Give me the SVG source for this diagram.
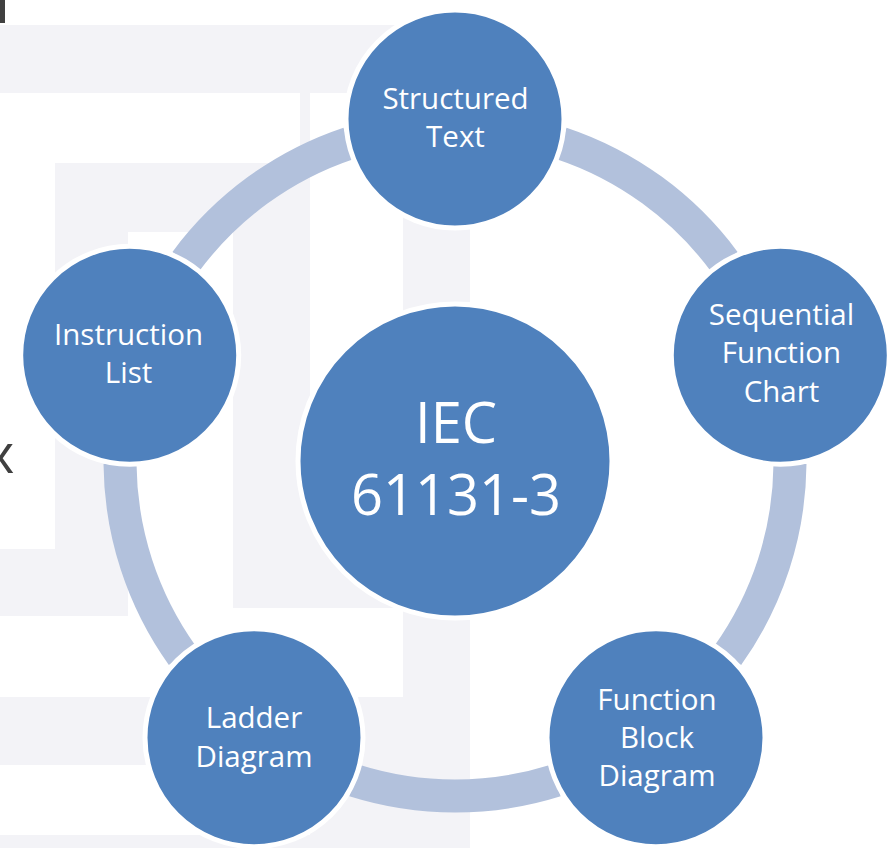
<svg xmlns="http://www.w3.org/2000/svg" width="895" height="848" viewBox="0 0 895 848">
<style>
.bg{fill:#f3f3f7}
.node{fill:#4f81bd;stroke:#ffffff;stroke-width:5}
.arc{fill:none;stroke:#b2c1dc;stroke-width:33;stroke-linecap:butt}
.lbl{font-family:"Open Sans","Noto Sans",sans-serif;font-size:29.5px;fill:#ffffff;text-anchor:middle}
.big{font-family:"Open Sans","Noto Sans",sans-serif;font-size:56px;fill:#ffffff;text-anchor:middle}
</style>
<rect width="895" height="848" fill="#ffffff"/>
<g id="background">
<rect class="bg" x="0" y="25" width="400" height="68"/>
<rect class="bg" x="300" y="93" width="10" height="70"/>
<rect class="bg" x="55" y="163" width="255" height="69"/>
<rect class="bg" x="55" y="232" width="73" height="317"/>
<rect class="bg" x="233" y="232" width="77" height="218"/>
<rect class="bg" x="233" y="450" width="170" height="158"/>
<rect class="bg" x="0" y="549" width="128" height="67"/>
<rect class="bg" x="403" y="215" width="67" height="633"/>
<rect class="bg" x="0" y="697" width="403" height="68"/>
<rect class="bg" x="310" y="765" width="93" height="70"/>
<rect class="bg" x="0" y="835" width="403" height="13"/>
<rect x="0" y="0" width="5" height="23" fill="#404040"/>
<text x="0" y="473" font-family="Open Sans, Noto Sans, sans-serif" font-size="54" fill="#404040" text-anchor="middle">x</text>
</g>
<g id="connectors">
<path class="arc" d="M561.3,143.3 A335,335 0 0 1 724.3,261.7"/>
<path class="arc" d="M790.0,463.9 A335,335 0 0 1 727.7,655.5"/>
<path class="arc" d="M555.7,780.5 A335,335 0 0 1 354.3,780.5"/>
<path class="arc" d="M182.3,655.5 A335,335 0 0 1 120.0,463.9"/>
<path class="arc" d="M185.7,261.7 A335,335 0 0 1 348.7,143.3"/>
</g>
<g id="center">
<circle class="node" cx="455" cy="461" r="157"/>
<text class="big" x="456"><tspan x="456" y="443">IEC</tspan><tspan x="456" y="515">61131-3</tspan></text>
</g>
<g id="structured-text">
<circle class="node" cx="455" cy="119" r="109"/>
<text class="lbl"><tspan x="455.5" y="109">Structured</tspan><tspan x="455.5" y="147">Text</tspan></text>
</g>
<g id="sequential-function-chart">
<circle class="node" cx="780.3" cy="355.3" r="109"/>
<text class="lbl"><tspan x="781.5" y="325">Sequential</tspan><tspan x="781.5" y="363">Function</tspan><tspan x="781.5" y="401.5">Chart</tspan></text>
</g>
<g id="function-block-diagram">
<circle class="node" cx="656" cy="737.7" r="109"/>
<text class="lbl"><tspan x="657" y="710">Function</tspan><tspan x="657" y="748">Block</tspan><tspan x="657" y="785.5">Diagram</tspan></text>
</g>
<g id="ladder-diagram">
<circle class="node" cx="254" cy="737.7" r="109"/>
<text class="lbl"><tspan x="254" y="728">Ladder</tspan><tspan x="254" y="766.5">Diagram</tspan></text>
</g>
<g id="instruction-list">
<circle class="node" cx="129.7" cy="355.3" r="109"/>
<text class="lbl"><tspan x="128.5" y="345">Instruction</tspan><tspan x="128.5" y="383">List</tspan></text>
</g>
</svg>
